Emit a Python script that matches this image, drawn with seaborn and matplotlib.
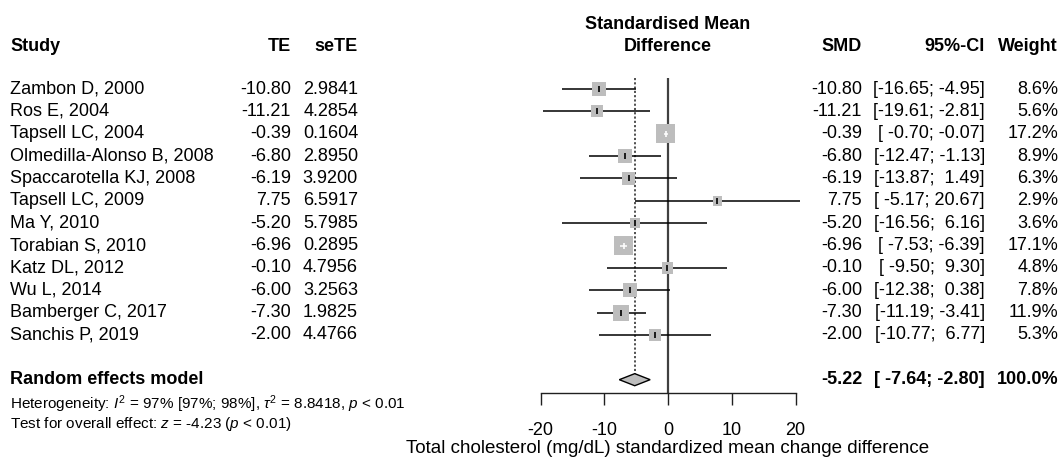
import numpy as np
import pandas as pd
import matplotlib
matplotlib.use("Agg")
import matplotlib.pyplot as plt
import matplotlib.transforms as mtransforms
import seaborn as sns

sns.set_style("white")
plt.rcParams["font.family"] = ["Liberation Sans", "DejaVu Sans"]
plt.rcParams["mathtext.fontset"] = "custom"
plt.rcParams["mathtext.rm"] = "Liberation Sans"
plt.rcParams["mathtext.it"] = "Liberation Sans:italic"
plt.rcParams["text.color"] = "black"
plt.rcParams["xtick.color"] = "black"

# data
studies = ["Zambon D, 2000", "Ros E, 2004", "Tapsell LC, 2004", "Olmedilla-Alonso B, 2008",
           "Spaccarotella KJ, 2008", "Tapsell LC, 2009", "Ma Y, 2010", "Torabian S, 2010",
           "Katz DL, 2012", "Wu L, 2014", "Bamberger C, 2017", "Sanchis P, 2019"]
te = [-10.80, -11.21, -0.39, -6.80, -6.19, 7.75, -5.20, -6.96, -0.10, -6.00, -7.30, -2.00]
sete = [2.9841, 4.2854, 0.1604, 2.8950, 3.9200, 6.5917, 5.7985, 0.2895, 4.7956, 3.2563, 1.9825, 4.4766]
lower = [-16.65, -19.61, -0.70, -12.47, -13.87, -5.17, -16.56, -7.53, -9.50, -12.38, -11.19, -10.77]
upper = [-4.95, -2.81, -0.07, -1.13, 1.49, 20.67, 6.16, -6.39, 9.30, 0.38, -3.41, 6.77]
weight = [8.6, 5.6, 17.2, 8.9, 6.3, 2.9, 3.6, 17.1, 4.8, 7.8, 11.9, 5.3]
pooled = -5.22
pooled_ci = (-7.64, -2.80)
ticks = [-20, -10, 0, 10, 20]

df = pd.DataFrame({"study": studies, "TE": te, "seTE": sete,
                   "lower": lower, "upper": upper, "w": weight})
df["row"] = np.arange(len(df))
re_row = 13

W, H = 1062, 459
fig = plt.figure(figsize=(W / 100, H / 100), dpi=100)
ax = fig.add_axes([0, 0, 1, 1])
# 6.375 px per unit, zero at px 668; row 0 at px 89, 22.36 px per row
ax.set_xlim(-668 / 6.375, (W - 668) / 6.375)
ax.set_ylim((H - 89) / 22.36, -89 / 22.36)
for sp in ["top", "left", "right"]:
    ax.spines[sp].set_visible(False)
ax.set_yticks([])

# reference lines
ax.vlines(0, -0.5, 13.6, color="#404040", lw=1.6)
ax.vlines(pooled, -0.5, re_row - 0.27, color="#505050", lw=1.4, linestyles=(0, (1.1, 1.1)))

# studies: square side grows with sqrt(weight)
side_px = 3.5 + 15 * np.sqrt(df["w"] / df["w"].max())
for i, r in df.iterrows():
    s_px = side_px[i]
    ci_px = (r["upper"] - r["lower"]) * 6.375
    col = "white" if ci_px < s_px else "black"
    if col == "black":
        ax.hlines(r["row"], r["lower"], r["upper"], color="black", lw=1.1, zorder=2)
    ax.scatter(r["TE"], r["row"], s=(s_px * 0.72) ** 2, marker="s", color="#bdbdbd",
               edgecolor="none", zorder=3)
    if col == "white":
        ax.hlines(r["row"], r["lower"], r["upper"], color="white", lw=1.1, zorder=4)
    ax.scatter(r["TE"], r["row"], s=16, marker="|", color=col, linewidths=1.2, zorder=4)

# diamond
dx = [pooled_ci[0], pooled, pooled_ci[1], pooled]
dy = [re_row, re_row - 0.27, re_row, re_row + 0.27]
ax.fill(dx, dy, facecolor="#bdbdbd", edgecolor="black", lw=1.0, zorder=3)

fs = 13

# bottom axis
ax.spines["bottom"].set_position(("data", 13.6))
ax.spines["bottom"].set_bounds(ticks[0], ticks[-1])
ax.spines["bottom"].set_linewidth(1.0)
ax.spines["bottom"].set_color("#202020")
ax.set_xticks(ticks)
ax.set_xticklabels([str(t) for t in ticks])
ax.tick_params(axis="x", bottom=True, direction="out", length=8.3, width=1.0,
               pad=12.5, labelsize=fs, color="#202020")
ax.text(0, 16.08, "Total cholesterol (mg/dL) standardized mean change difference",
        ha="center", va="center", fontsize=13.5)

# text columns: x in figure fraction, y in rows
tr = mtransforms.blended_transform_factory(fig.transFigure, ax.transData)
hdr_row = -1.9
def col(xpx, y, s, ha="left", **kw):
    ax.text(xpx / W, y, s, transform=tr, ha=ha, va="center", fontsize=kw.pop("fontsize", fs), **kw)

col(10, hdr_row, "Study", weight="bold")
col(291, hdr_row, "TE", ha="right", weight="bold")
col(358, hdr_row, "seTE", ha="right", weight="bold")
ax.text(0, hdr_row - 1.0, "Standardised Mean", ha="center", va="center", fontsize=fs, weight="bold")
ax.text(0, hdr_row, "Difference", ha="center", va="center", fontsize=fs, weight="bold")
col(862, hdr_row, "SMD", ha="right", weight="bold")
col(985, hdr_row, "95%-CI", ha="right", weight="bold")
col(1058, hdr_row, "Weight", ha="right", weight="bold")

for i, r in df.iterrows():
    col(10, r["row"], r["study"])
    col(291, r["row"], f"{r['TE']:.2f}", ha="right")
    col(358, r["row"], f"{r['seTE']:.4f}", ha="right")
    col(862, r["row"], f"{r['TE']:.2f}", ha="right")
    col(985, r["row"], f"[{r['lower']:6.2f}; {r['upper']:5.2f}]", ha="right")
    col(1058, r["row"], f"{r['w']:.1f}%", ha="right")

col(10, re_row, "Random effects model", weight="bold")
col(862, re_row, f"{pooled:.2f}", ha="right", weight="bold")
col(985, re_row, f"[{pooled_ci[0]:6.2f}; {pooled_ci[1]:5.2f}]", ha="right", weight="bold")
col(1058, re_row, "100.0%", ha="right", weight="bold")
col(10, 14.08, r"Heterogeneity: $I^2$ = 97% [97%; 98%], $\tau^2$ = 8.8418, $p$ < 0.01", fontsize=11)
col(10, 14.98, r"Test for overall effect: $z$ = -4.23 ($p$ < 0.01)", fontsize=11)

plt.savefig("out.png", dpi=100)
